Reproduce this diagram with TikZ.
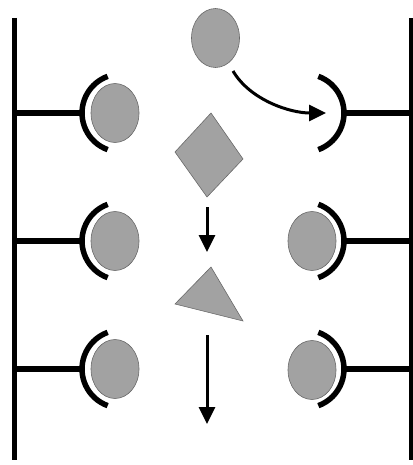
\documentclass[tikz,border=0pt]{standalone}
\usetikzlibrary{arrows.meta,shapes.geometric}
\definecolor{shapefill}{RGB}{162,162,162}
\definecolor{shapeline}{RGB}{105,105,105}
\tikzset{
  ball/.style={ellipse, fill=shapefill, draw=shapeline, line width=0.6pt,
    minimum width=48pt, minimum height=59pt, inner sep=0pt},
  piece/.style={fill=shapefill, draw=shapeline, line width=0.6pt, line join=miter},
  bar/.style={line width=5.5pt},
  socket/.style={line width=5.5pt},
  flow/.style={line width=3pt, -{Triangle[length=17pt,width=16pt]}},
}
\begin{document}
\begin{tikzpicture}[x=1pt,y=-1pt]
\useasboundingbox (0,0) rectangle (412,465);

% membranes
\coordinate (LT) at (14.5,18);  \coordinate (LB) at (14.5,460);
\coordinate (RT) at (411.5,18); \coordinate (RB) at (411.5,460);
\draw[bar] (LT) -- (LB);
\draw[bar] (RT) -- (RB);

% left receptors with bound balls
\foreach \n/\y in {1/113,2/241,3/369}{
  \node[ball] (L\n) at (115,\y) {};
  \coordinate (Ls\n) at (82,\y);
  \draw[socket] (121,\y) ++(110:39) arc[start angle=110,end angle=250,radius=39];
  \draw[bar] (LT |- Ls\n) -- (Ls\n);
}

% right receptors
\foreach \n/\y in {1/113,2/241,3/369}{
  \coordinate (Rs\n) at (344,\y);
  \draw[socket] (305,\y) ++(-70:39) arc[start angle=-70,end angle=70,radius=39];
  \draw[bar] (Rs\n) -- (RT |- Rs\n);
}
\node[ball] (R2) at (312,241) {};
\node[ball] (R3) at (312,370) {};

% free ball on top
\node[ball] (T) at (215.5,38) {};

% diamond and triangle
\draw[piece] (211,113) coordinate (D) -- (243,159) -- (207,197) coordinate (Db) -- (175,152) -- cycle;
\draw[piece] (211,267) coordinate (Tr) -- (243,321) -- (175,304) -- cycle;

% arrows
\coordinate (A0) at (233,71);
\coordinate (A1) at (326,113);
\draw[flow] (A0) .. controls (250,100) and (290,113) .. (A1);

\coordinate (B0) at (207,207);
\coordinate (B1) at (207,252);
\draw[flow] (B0) -- (B1);

\coordinate (C0) at (207,335);
\coordinate (C1) at (207,424);
\draw[flow] (C0) -- (C1);
\end{tikzpicture}
\end{document}
